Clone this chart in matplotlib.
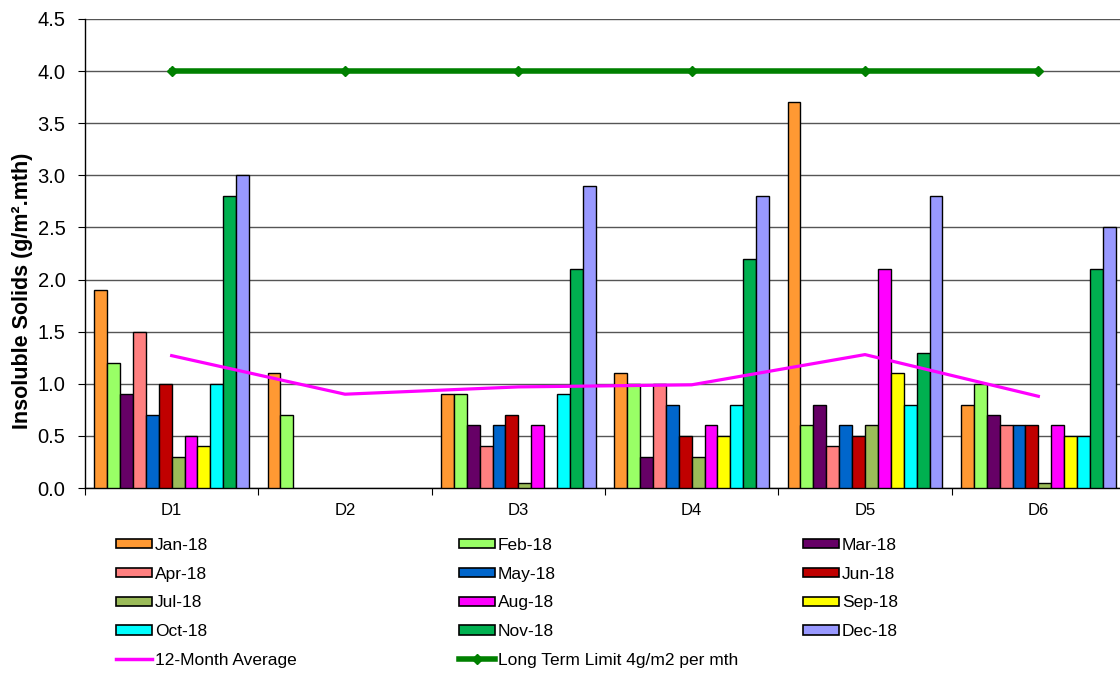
import numpy as np
import matplotlib
matplotlib.use("Agg")
import matplotlib.pyplot as plt
from matplotlib.patches import Patch
from matplotlib.lines import Line2D

plt.rcParams["font.family"] = ["Liberation Sans", "DejaVu Sans"]

SITES = ["D1", "D2", "D3", "D4", "D5", "D6"]
MONTHS = ["Jan-18", "Feb-18", "Mar-18", "Apr-18", "May-18", "Jun-18",
          "Jul-18", "Aug-18", "Sep-18", "Oct-18", "Nov-18", "Dec-18"]
COLORS = ["#FF9933", "#99FF66", "#660066", "#FF8080", "#0066CC", "#C00000",
          "#9BBB59", "#FF00FF", "#FFFF00", "#00FFFF", "#00B050", "#9999FF"]
nan = np.nan
# rows = month, columns = site D1..D6
VALUES = [
    [1.9, 1.1, 0.9, 1.1, 3.7, 0.8],
    [1.2, 0.7, 0.9, 1.0, 0.6, 1.0],
    [0.9, nan, 0.6, 0.3, 0.8, 0.7],
    [1.5, nan, 0.4, 1.0, 0.4, 0.6],
    [0.7, nan, 0.6, 0.8, 0.6, 0.6],
    [1.0, nan, 0.7, 0.5, 0.5, 0.6],
    [0.3, nan, 0.05, 0.3, 0.6, 0.05],
    [0.5, nan, 0.6, 0.6, 2.1, 0.6],
    [0.4, nan, nan, 0.5, 1.1, 0.5],
    [1.0, nan, 0.9, 0.8, 0.8, 0.5],
    [2.8, nan, 2.1, 2.2, 1.3, 2.1],
    [3.0, nan, 2.9, 2.8, 2.8, 2.5],
]
AVERAGE = [1.27, 0.90, 0.97, 0.99, 1.28, 0.88]
LIMIT = [4.0, 4.0, 4.0, 4.0, 4.0, 4.0]

fig = plt.figure(figsize=(11.2, 6.73), dpi=100)
ax = fig.add_axes([85 / 1120, 1 - 488 / 673, 1040 / 1120, 469 / 673])

x = np.arange(len(SITES))
width = 0.0745
for i, (month, color) in enumerate(zip(MONTHS, COLORS)):
    offset = (i - 5.5) * width
    ax.bar(x + offset, VALUES[i], width, color=color, edgecolor="black",
           linewidth=1.0, zorder=3)

ax.plot(x, AVERAGE, color="#FF00FF", linewidth=2.3, zorder=4)
ax.plot(x, LIMIT, color="#008000", linewidth=4, marker="D", markersize=5,
        zorder=4)

ax.set_xlim(-0.5, len(SITES) - 0.5)
ax.set_ylim(0, 4.5)
ax.set_yticks(np.arange(0, 4.51, 0.5))
ax.set_yticklabels([f"{v:.1f}" for v in np.arange(0, 4.51, 0.5)], fontsize=14.5)
ax.set_xticks(np.arange(-0.5, len(SITES), 1.0))
ax.set_xticklabels([])
ax.set_xticks(x, minor=True)
ax.set_xticklabels(SITES, minor=True, fontsize=12)
ax.tick_params(axis="x", which="minor", length=0, pad=11)
ax.tick_params(axis="x", which="major", length=5, direction="out")
ax.tick_params(axis="y", length=5, direction="out", pad=9)
ax.yaxis.grid(True, color="#555555", linewidth=1, zorder=0)
for side in ["top", "right"]:
    ax.spines[side].set_visible(False)
ax.spines["left"].set_linewidth(1)
ax.spines["bottom"].set_linewidth(1)
ax.set_ylabel("Insoluble Solids (g/m².mth)", fontsize=15.5, fontweight="bold")
ax.yaxis.set_label_coords(-0.05, 0.42)

bar_handles = [Patch(facecolor=c, edgecolor="black", linewidth=1.2) for c in COLORS]
line_handles = [Line2D([], [], color="#FF00FF", linewidth=2.5),
                Line2D([], [], color="#008000", linewidth=4, marker="D",
                       markersize=5)]
line_labels = ["12-Month Average", "Long Term Limit 4g/m2 per mth"]

columns = [
    ([bar_handles[i] for i in (0, 3, 6, 9)] + [line_handles[0]],
     [MONTHS[i] for i in (0, 3, 6, 9)] + [line_labels[0]]),
    ([bar_handles[i] for i in (1, 4, 7, 10)] + [line_handles[1]],
     [MONTHS[i] for i in (1, 4, 7, 10)] + [line_labels[1]]),
    ([bar_handles[i] for i in (2, 5, 8, 11)],
     [MONTHS[i] for i in (2, 5, 8, 11)]),
]
starts = [116, 459, 803]
for (handles, labels), xs in zip(columns, starts):
    fig.legend(handles, labels, loc="upper left",
               bbox_to_anchor=(xs / 1120, 1 - 538 / 673), frameon=False,
               fontsize=12.5, handlelength=2.07, handleheight=0.45,
               handletextpad=0.17, labelspacing=0.79, borderpad=0,
               borderaxespad=0)

fig.savefig("out.png", dpi=100)
